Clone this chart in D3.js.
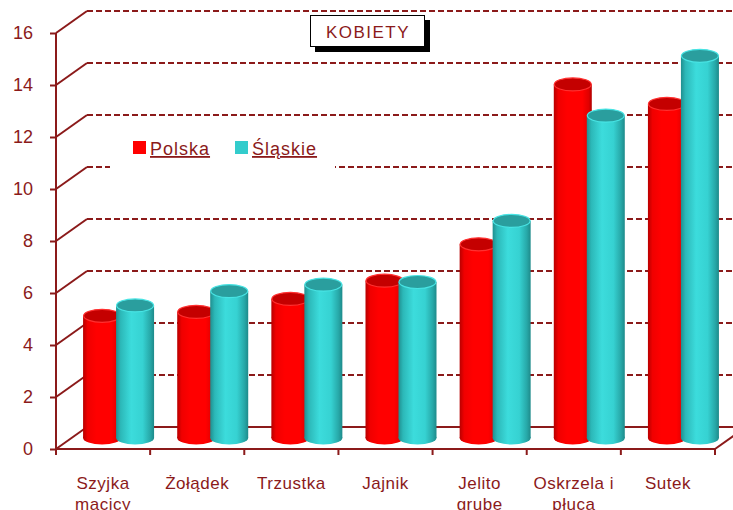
<!DOCTYPE html>
<html>
<head>
<meta charset="utf-8">
<script src="https://cdn.jsdelivr.net/npm/d3@7"></script>
<style>
  body { margin: 0; background: #fff; }
  text { font-family: "Liberation Sans", Arial, sans-serif; }
</style>
</head>
<body>
<div id="chart"></div>
<script>
const categories = [["Szyjka", "macicy"], ["Żołądek"], ["Trzustka"], ["Jajnik"], ["Jelito", "grube"], ["Oskrzela i", "płuca"], ["Sutek"]];
const polska = [4.7, 4.85, 5.35, 6.05, 7.45, 13.6, 12.85];
const slaskie = [5.1, 5.65, 5.9, 6.0, 8.35, 12.4, 14.7];
const seriesNames = ["Polska", "Śląskie"];
const yTicks = [0, 2, 4, 6, 8, 10, 12, 14, 16];

const W = 733, H = 510;
const axisColor = "#8b1a1a";
const textColor = "#8b1a1a";
// 3d depth offset of the back wall
const dx = 31, dy = -22;

const svg = d3.select('#chart').append('svg')
    .attr('width', W)
    .attr('height', H);

const x = d3.scaleBand()
    .domain(d3.range(categories.length))
    .range([56, 715]);

const y = d3.scaleLinear()
    .domain([0, 16])
    .range([449, 33]);

const defs = svg.append('defs');
function cylGradient(id, stops) {
    const g = defs.append('linearGradient').attr('id', id)
        .attr('x1', 0).attr('x2', 1).attr('y1', 0).attr('y2', 0);
    stops.forEach(s => g.append('stop').attr('offset', s[0]).attr('stop-color', s[1]));
}
cylGradient('gRed', [[0, '#b80000'], [0.12, '#f00000'], [0.35, '#ff0000'], [0.75, '#ff0000'], [0.92, '#e00000'], [1, '#b00000']]);
cylGradient('gTeal', [[0, '#1f8f8f'], [0.12, '#2cb8b8'], [0.4, '#3cdcdc'], [0.7, '#36d2d2'], [0.9, '#27a8a8'], [1, '#1e8a8a']]);

// back wall gridlines (dashed)
yTicks.forEach(t => {
    if (t === 0) return;
    svg.append('line')
        .attr('x1', 56 + dx).attr('x2', W)
        .attr('y1', y(t) + dy).attr('y2', y(t) + dy)
        .attr('stroke', axisColor)
        .attr('stroke-width', 2)
        .attr('stroke-dasharray', '6,3');
});

// back floor edge
svg.append('line')
    .attr('x1', 56 + dx).attr('x2', 715 + dx)
    .attr('y1', y(0) + dy).attr('y2', y(0) + dy)
    .attr('stroke', axisColor).attr('stroke-width', 2);

// side wall diagonals
yTicks.forEach(t => {
    svg.append('line')
        .attr('x1', 56).attr('y1', y(t))
        .attr('x2', 56 + dx).attr('y2', y(t) + dy)
        .attr('stroke', axisColor).attr('stroke-width', 2);
});
svg.append('line')
    .attr('x1', 715).attr('y1', y(0))
    .attr('x2', 715 + dx).attr('y2', y(0) + dy)
    .attr('stroke', axisColor).attr('stroke-width', 2);

// legend background hides the gridlines behind it
svg.append('rect')
    .attr('x', 110).attr('y', 118)
    .attr('width', 225).attr('height', 80)
    .attr('fill', '#fff');

// title box with shadow
svg.append('rect')
    .attr('x', 315).attr('y', 20).attr('width', 115).attr('height', 32)
    .attr('fill', '#000');
svg.append('rect')
    .attr('x', 310.5).attr('y', 15.5).attr('width', 114).attr('height', 31)
    .attr('fill', '#fff').attr('stroke', '#000').attr('stroke-width', 1);
svg.append('text')
    .attr('x', 368).attr('y', 38)
    .attr('text-anchor', 'middle')
    .attr('fill', textColor)
    .style('font-size', '17px')
    .style('letter-spacing', '1.5px')
    .text('KOBIETY');

// cylinders
const cylW = 38, ry = 6.5;
const bars = [];
categories.forEach((c, i) => {
    const center = x(i) + x.bandwidth() / 2 + dx * 0.5;
    bars.push({cx: center - 16.5, v: polska[i], grad: 'gRed', top: '#c40000', rim: '#ff3030'});
    bars.push({cx: center + 16.5, v: slaskie[i], grad: 'gTeal', top: '#2a9e9e', rim: '#48e4e4'});
});

bars.forEach(b => {
    const base = y(0) + dy * 0.5;
    const topY = y(b.v) + dy * 0.5;
    const g = svg.append('g');
    g.append('ellipse')
        .attr('cx', b.cx).attr('cy', base)
        .attr('rx', cylW / 2).attr('ry', ry)
        .attr('fill', `url(#${b.grad})`);
    g.append('rect')
        .attr('x', b.cx - cylW / 2).attr('y', topY)
        .attr('width', cylW).attr('height', base - topY)
        .attr('fill', `url(#${b.grad})`);
    g.append('ellipse')
        .attr('cx', b.cx).attr('cy', topY)
        .attr('rx', cylW / 2 - 0.5).attr('ry', ry)
        .attr('fill', b.top)
        .attr('stroke', b.rim).attr('stroke-width', 1.2);
});

// front axes
svg.append('line')
    .attr('x1', 56).attr('x2', 56)
    .attr('y1', y(16)).attr('y2', y(0))
    .attr('stroke', axisColor).attr('stroke-width', 2);
svg.append('line')
    .attr('x1', 56).attr('x2', 715)
    .attr('y1', y(0)).attr('y2', y(0))
    .attr('stroke', axisColor).attr('stroke-width', 2);

// y axis ticks and labels
const yAxis = svg.append('g')
    .attr('transform', 'translate(56,0)')
    .call(d3.axisLeft(y).tickValues(yTicks).tickSize(6).tickPadding(17));
yAxis.select('.domain').remove();
yAxis.selectAll('line').attr('stroke', axisColor).attr('stroke-width', 2);
yAxis.selectAll('text')
    .attr('fill', textColor)
    .style('font-size', '18px')
    .style('font-family', '"Liberation Sans", Arial, sans-serif');

// x axis category boundary ticks
d3.range(categories.length + 1).forEach(i => {
    const xx = i < categories.length ? x(i) : x.range()[1];
    svg.append('line')
        .attr('x1', xx).attr('x2', xx)
        .attr('y1', y(0)).attr('y2', y(0) + 6)
        .attr('stroke', axisColor).attr('stroke-width', 2);
});

// x labels
categories.forEach((c, i) => {
    const t = svg.append('text')
        .attr('x', x(i) + x.bandwidth() / 2)
        .attr('y', 489)
        .attr('text-anchor', 'middle')
        .attr('fill', textColor)
        .style('font-size', '17px')
        .style('letter-spacing', '0.5px');
    c.forEach((line, k) => {
        t.append('tspan')
            .attr('x', x(i) + x.bandwidth() / 2)
            .attr('dy', k === 0 ? 0 : 21)
            .text(line);
    });
});

// legend
const legendItems = [
    {name: seriesNames[0], color: '#ff0000', x: 133},
    {name: seriesNames[1], color: '#33cccc', x: 235}
];
legendItems.forEach(d => {
    svg.append('rect')
        .attr('x', d.x).attr('y', 141)
        .attr('width', 13).attr('height', 13)
        .attr('fill', d.color);
    svg.append('text')
        .attr('x', d.x + 17).attr('y', 155)
        .attr('fill', textColor)
        .style('font-size', '18px')
        .style('letter-spacing', '1px')
        .style('text-decoration', 'underline')
        .text(d.name);
});
</script>
</body>
</html>
